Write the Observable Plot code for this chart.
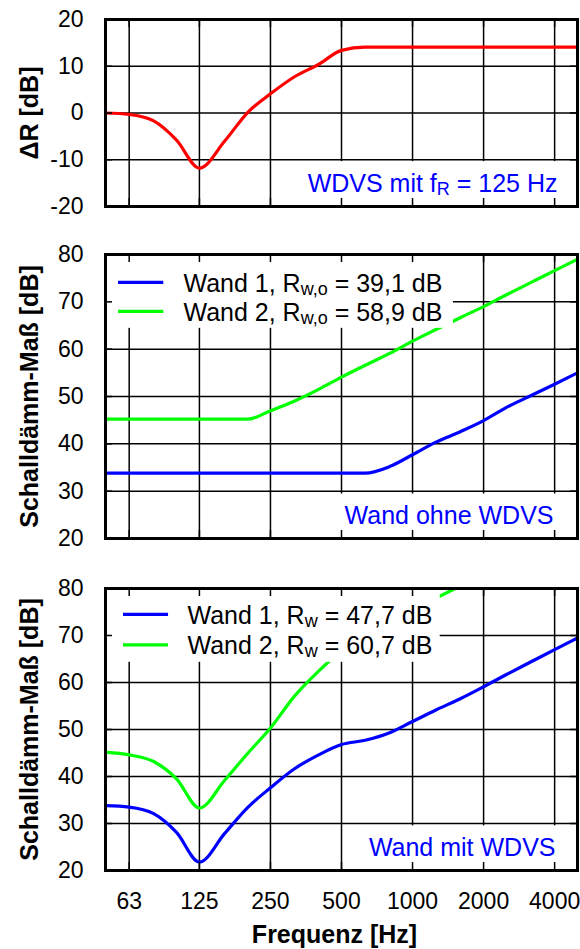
<!DOCTYPE html>
<html><head><meta charset="utf-8">
<script src="https://cdn.jsdelivr.net/npm/d3@7"></script>
<script src="https://cdn.jsdelivr.net/npm/@observablehq/plot@0.6"></script>
<style>
body{margin:0;background:#fff;}
#chart svg{display:block;}
</style>
</head><body><div id="chart"></div>
<script>
// ---- data (third-octave band centre frequencies, Hz) ----
const freqs = [50,63,80,100,125,160,200,250,315,400,500,630,800,1000,1250,1600,2000,2500,3150,4000,5000];
const deltaR = [0,-0.3,-1.7,-5.8,-11.8,-6.0,0.1,4.1,7.7,10.4,13.4,14.1,14.1,14.1,14.1,14.1,14.1,14.1,14.1,14.1,14.1];
const wand1Ohne = [33.8,33.8,33.8,33.8,33.8,33.8,33.8,33.8,33.8,33.8,33.8,33.8,35.2,37.7,40.3,42.6,44.9,47.7,50.1,52.6,55.0];
const wand2Ohne = [45.2,45.2,45.2,45.2,45.2,45.2,45.2,47.0,49.0,51.5,54.1,56.6,59.1,61.7,64.1,66.7,69.0,71.5,74.0,76.6,79.0];
const wand1Mit = [33.8,33.5,32.1,28.1,21.8,27.9,33.4,37.6,41.6,44.6,46.8,47.7,49.3,51.7,54.1,56.6,59.1,61.7,64.3,67.0,69.5];
const wand2Mit = [45.2,44.6,43.2,39.5,33.3,39.2,44.9,50.3,57.0,62.4,66.8,70.4,73.0,75.6,77.9,80.6,83.1,85.6,88.1,90.7,93.1];
const xTicks = [63,125,250,500,1000,2000,4000];
const yTicksDelta = [-20,-10,0,10,20];
const yTicksR = [20,30,40,50,60,70,80];
const legendOhne = ["Wand 1, R_{w,o} = 39,1 dB","Wand 2, R_{w,o} = 58,9 dB"];
const legendMit = ["Wand 1, R_{w} = 47,7 dB","Wand 2, R_{w} = 60,7 dB"];

const FONT = "'Liberation Sans', Arial, Helvetica, sans-serif";
const BLUE = "#0000ff", GREEN = "#00ff00", RED = "#ff0000";

function rows(vals){ return freqs.map((f,i)=>({f, v: vals[i]})); }

function applySubs(svg){
  d3.select(svg).selectAll("text").each(function(){
    const t = this.textContent;
    if (!t || t.indexOf("_{") < 0) return;
    const el = d3.select(this);
    const parts = [];
    const re = /_\{([^}]*)\}/g; let last = 0, m;
    while ((m = re.exec(t))) { parts.push({s: t.slice(last, m.index)}); parts.push({s: m[1], sub: true}); last = re.lastIndex; }
    parts.push({s: t.slice(last)});
    el.text(null);
    let shifted = false;
    for (const p of parts) {
      if (!p.s) continue;
      const ts = el.append("tspan").text(p.s);
      if (p.sub) { ts.attr("font-size", 18).attr("dy", 3); shifted = true; }
      else if (shifted) { ts.attr("dy", -3); shifted = false; }
    }
  });
}

function panel(o){
  const plotH = o.height - o.marginTop - o.marginBottom;
  const [y0, y1] = o.yDomain;
  const stubY = (y1 - y0) * 8 / plotH;
  const stubXf = Math.pow(2, 7 / 71.1);
  const grid = {stroke: "#000", strokeOpacity: 1, strokeWidth: 1.5};
  const marks = [
    Plot.gridX(xTicks, grid),
    Plot.gridY(o.yTicks, grid),
    ...o.series.map(s => Plot.line(rows(s.values), {x: "f", y: "v", stroke: s.color, strokeWidth: 3.2, curve: "monotone-x", clip: true})),
    Plot.rect(o.boxes, {x1: "x1", x2: "x2", y1: "y1", y2: "y2", fill: "white"}),
    Plot.ruleX(xTicks, {y1: y0, y2: y0 + stubY, ...grid}),
    Plot.ruleX(xTicks, {y1: y1 - stubY, y2: y1, ...grid}),
    Plot.ruleY(o.yTicks, {x1: 50, x2: 50 * stubXf, ...grid}),
    Plot.ruleY(o.yTicks, {x1: 5000 / stubXf, x2: 5000, ...grid}),
    Plot.frame({stroke: "#000", strokeWidth: 3}),
    Plot.text([o.yTitle], {text: d => d, frameAnchor: "left", rotate: -90, dx: -68, textAnchor: "middle", lineAnchor: "bottom", fontSize: 25, fontWeight: "bold", fill: "#000"}),
    Plot.text([o.note], {text: d => d, frameAnchor: "bottom-right", textAnchor: "end", lineAnchor: "bottom", dx: o.noteDx, dy: o.noteDy, fontSize: 25, fill: BLUE})
  ];
  if (o.legend) {
    marks.push(Plot.ruleY(o.legend.swatches, {y: "y", x1: "x1", x2: "x2", stroke: "c", strokeWidth: 3.2}));
    o.legend.labels.forEach((lab, i) => {
      marks.push(Plot.text([lab], {text: d => d, frameAnchor: "top-left", textAnchor: "start", lineAnchor: "bottom", dx: o.legend.dx, dy: o.legend.dy[i], fontSize: 25, fill: "#000"}));
    });
  }
  if (o.showX) {
    marks.push(Plot.text(xTicks, {x: d => d, text: d => String(d), frameAnchor: "bottom", lineAnchor: "top", dy: 22, fontSize: 23, fill: "#000"}));
    marks.push(Plot.text(["Frequenz [Hz]"], {text: d => d, frameAnchor: "bottom", lineAnchor: "bottom", dx: -7, dy: 72, fontSize: 25, fontWeight: "bold", fill: "#000"}));
  }
  const svg = Plot.plot({
    width: 580, height: o.height,
    marginLeft: 105, marginRight: 3, marginTop: o.marginTop, marginBottom: o.marginBottom,
    style: {fontFamily: FONT, fontSize: "23px", overflow: "visible", background: "white", color: "#000"},
    x: {type: "log", domain: [50, 5000], axis: null},
    y: {domain: o.yDomain, ticks: o.yTicks, tickFormat: d => String(d), tickSize: 0, tickPadding: 22, label: null},
    marks
  });
  applySubs(svg);
  return svg;
}

const root = document.getElementById("chart");

root.appendChild(panel({
  height: 230, marginTop: 19, marginBottom: 24,
  yDomain: [-20, 20], yTicks: yTicksDelta,
  series: [{values: deltaR, color: RED}],
  boxes: [{x1: 320, x2: 5000, y1: -20, y2: -10.4}],
  yTitle: "ΔR [dB]",
  note: "WDVS mit f_{R} = 125 Hz", noteDx: -20, noteDy: -15
}));

root.appendChild(panel({
  height: 310, marginTop: 24, marginBottom: 2,
  yDomain: [20, 80], yTicks: yTicksR,
  series: [{values: wand1Ohne, color: BLUE}, {values: wand2Ohne, color: GREEN}],
  boxes: [{x1: 450, x2: 5000, y1: 20, y2: 29.4}, {x1: 50, x2: 1490, y1: 64.4, y2: 80}],
  yTitle: "Schalldämm-Maß [dB]",
  note: "Wand ohne WDVS", noteDx: -24, noteDy: -15,
  legend: {
    swatches: [{y: 74.1, x1: 56.8, x2: 88.3, c: BLUE}, {y: 68.0, x1: 56.8, x2: 88.3, c: GREEN}],
    labels: legendOhne, dx: 78, dy: [37, 66]
  }
}));

root.appendChild(panel({
  height: 409, marginTop: 48, marginBottom: 79,
  yDomain: [20, 80], yTicks: yTicksR,
  series: [{values: wand1Mit, color: BLUE}, {values: wand2Mit, color: GREEN}],
  boxes: [{x1: 560, x2: 5000, y1: 20, y2: 29.5}, {x1: 50, x2: 1310, y1: 64.3, y2: 80}],
  yTitle: "Schalldämm-Maß [dB]",
  note: "Wand mit WDVS", noteDx: -22, noteDy: -15,
  legend: {
    swatches: [{y: 74.5, x1: 59.6, x2: 92.5, c: BLUE}, {y: 68.0, x1: 59.6, x2: 92.5, c: GREEN}],
    labels: legendMit, dx: 82, dy: [35, 65]
  },
  showX: true
}));
</script>
</body></html>
